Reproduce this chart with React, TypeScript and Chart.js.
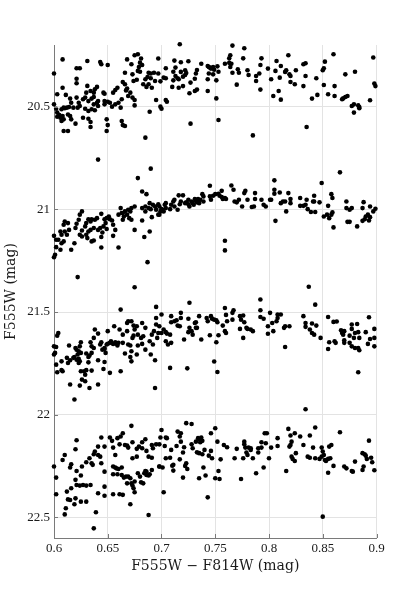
import React, { useEffect, useRef } from "react";
import { Chart, registerables } from "chart.js";

Chart.register(...registerables);

// Tick values / labels
const xTicks = [0.6, 0.65, 0.7, 0.75, 0.8, 0.85, 0.9];
const yTicks = [20.5, 21, 21.5, 22, 22.5];
const xLabel = "F555W \u2212 F814W (mag)";
const yLabel = "F555W (mag)";

// Sequence near F555W ~ 20.4
const seqA: [number, number][] = [
  [0.608, 20.27], [0.6, 20.339], [0.631, 20.278], [0.643, 20.283], [0.644, 20.294], [0.65, 20.297],
  [0.621, 20.313], [0.624, 20.313], [0.621, 20.364], [0.621, 20.386], [0.668, 20.27], [0.675, 20.25],
  [0.678, 20.245], [0.681, 20.266], [0.68, 20.286], [0.679, 20.307], [0.682, 20.297], [0.672, 20.294],
  [0.666, 20.335], [0.678, 20.326], [0.68, 20.33], [0.673, 20.343], [0.688, 20.335], [0.69, 20.339],
  [0.693, 20.335], [0.687, 20.356], [0.69, 20.362], [0.685, 20.367], [0.677, 20.369], [0.674, 20.375],
  [0.683, 20.391], [0.686, 20.404], [0.688, 20.391], [0.691, 20.408], [0.694, 20.375], [0.664, 20.38],
  [0.666, 20.391], [0.668, 20.412], [0.659, 20.408], [0.657, 20.419], [0.655, 20.432], [0.646, 20.432],
  [0.647, 20.437], [0.64, 20.404], [0.638, 20.416], [0.637, 20.432], [0.631, 20.399], [0.63, 20.432],
  [0.634, 20.424], [0.608, 20.408], [0.603, 20.44], [0.611, 20.443], [0.615, 20.461], [0.627, 20.464],
  [0.629, 20.456], [0.632, 20.473], [0.635, 20.461], [0.637, 20.453], [0.621, 20.456], [0.623, 20.481],
  [0.616, 20.481], [0.618, 20.505], [0.6, 20.489], [0.602, 20.51], [0.603, 20.529], [0.605, 20.541],
  [0.607, 20.513], [0.609, 20.505], [0.61, 20.508], [0.612, 20.505], [0.614, 20.502], [0.606, 20.554],
  [0.607, 20.57], [0.603, 20.549], [0.608, 20.546], [0.609, 20.562], [0.613, 20.538], [0.616, 20.562],
  [0.62, 20.583], [0.615, 20.546], [0.622, 20.505], [0.624, 20.497], [0.627, 20.554], [0.632, 20.559],
  [0.634, 20.575], [0.634, 20.599], [0.629, 20.51], [0.632, 20.521], [0.635, 20.513], [0.638, 20.518],
  [0.637, 20.489], [0.64, 20.481], [0.641, 20.473], [0.641, 20.497], [0.647, 20.473], [0.647, 20.489],
  [0.65, 20.476], [0.652, 20.481], [0.654, 20.5], [0.657, 20.489], [0.66, 20.481], [0.662, 20.505],
  [0.663, 20.464], [0.669, 20.448], [0.673, 20.456], [0.675, 20.468], [0.675, 20.494], [0.667, 20.421],
  [0.671, 20.432], [0.663, 20.57], [0.664, 20.59], [0.666, 20.594], [0.649, 20.562], [0.65, 20.59],
  [0.649, 20.619], [0.609, 20.619], [0.613, 20.619], [0.641, 20.758], [0.685, 20.651], [0.689, 20.525],
  [0.695, 20.468],
  [0.717, 20.196], [0.697, 20.266], [0.712, 20.276], [0.718, 20.284], [0.725, 20.279], [0.704, 20.313],
  [0.713, 20.31], [0.722, 20.323], [0.718, 20.331], [0.711, 20.33], [0.713, 20.351], [0.715, 20.362],
  [0.711, 20.372], [0.716, 20.367], [0.72, 20.354], [0.722, 20.346], [0.723, 20.336], [0.733, 20.322],
  [0.732, 20.339], [0.731, 20.364], [0.737, 20.291], [0.743, 20.302], [0.744, 20.307], [0.745, 20.31],
  [0.746, 20.315], [0.748, 20.307], [0.749, 20.32], [0.752, 20.304], [0.753, 20.33], [0.751, 20.372],
  [0.744, 20.339], [0.748, 20.343], [0.743, 20.367], [0.759, 20.291], [0.763, 20.287], [0.764, 20.25],
  [0.763, 20.265], [0.764, 20.307], [0.765, 20.291], [0.766, 20.203], [0.777, 20.216], [0.776, 20.265],
  [0.771, 20.318], [0.772, 20.335], [0.766, 20.335], [0.78, 20.323], [0.781, 20.346], [0.77, 20.393],
  [0.788, 20.351], [0.791, 20.339], [0.793, 20.265], [0.792, 20.297], [0.799, 20.315], [0.788, 20.375],
  [0.792, 20.417], [0.702, 20.359], [0.704, 20.362], [0.699, 20.377], [0.697, 20.339], [0.71, 20.404],
  [0.716, 20.408], [0.72, 20.4], [0.727, 20.383], [0.726, 20.435], [0.731, 20.424], [0.733, 20.417],
  [0.743, 20.424], [0.704, 20.468], [0.705, 20.476], [0.699, 20.5], [0.7, 20.51], [0.751, 20.46],
  [0.727, 20.583], [0.753, 20.565], [0.785, 20.64],
  [0.802, 20.367], [0.807, 20.278], [0.806, 20.326], [0.81, 20.359], [0.811, 20.302], [0.815, 20.331],
  [0.816, 20.323], [0.818, 20.25], [0.819, 20.343], [0.82, 20.351], [0.82, 20.38], [0.824, 20.391],
  [0.825, 20.323], [0.804, 20.448], [0.809, 20.424], [0.811, 20.466], [0.832, 20.294], [0.834, 20.289],
  [0.834, 20.351], [0.832, 20.4], [0.835, 20.599], [0.844, 20.362], [0.84, 20.461], [0.845, 20.443],
  [0.85, 20.323], [0.851, 20.313], [0.852, 20.281], [0.851, 20.395], [0.855, 20.44], [0.86, 20.245],
  [0.861, 20.4], [0.861, 20.448], [0.871, 20.343], [0.88, 20.33], [0.868, 20.464], [0.869, 20.46],
  [0.871, 20.453], [0.873, 20.448], [0.877, 20.497], [0.879, 20.489], [0.879, 20.529], [0.883, 20.494],
  [0.884, 20.508], [0.884, 20.502], [0.897, 20.261], [0.898, 20.388], [0.899, 20.4], [0.894, 20.469],
];

// Sequence near F555W ~ 21.0
const seqB: [number, number][] = [
  [0.69, 20.802], [0.678, 20.848], [0.682, 20.913], [0.686, 20.926], [0.689, 20.97], [0.692, 20.978],
  [0.682, 20.994], [0.685, 20.986], [0.688, 20.994], [0.69, 20.999], [0.694, 20.986], [0.695, 21.002],
  [0.697, 21.026], [0.691, 21.038], [0.685, 21.01], [0.675, 20.986], [0.672, 20.994], [0.671, 21.01],
  [0.669, 21.002], [0.666, 21.01], [0.664, 21.018], [0.668, 21.026], [0.665, 21.035], [0.662, 20.994],
  [0.663, 21.018], [0.66, 21.026], [0.664, 21.051], [0.67, 21.043], [0.672, 21.051], [0.675, 21.1],
  [0.682, 21.054], [0.689, 21.108], [0.684, 21.135], [0.687, 21.257], [0.66, 21.186], [0.655, 21.129],
  [0.657, 21.1], [0.644, 21.022], [0.647, 21.048], [0.649, 21.043], [0.651, 21.035], [0.652, 21.048],
  [0.654, 21.054], [0.655, 21.075], [0.648, 21.067], [0.646, 21.083], [0.643, 21.091], [0.641, 21.1],
  [0.645, 21.113], [0.649, 21.096], [0.638, 21.051], [0.64, 21.043], [0.635, 21.048], [0.634, 21.059],
  [0.632, 21.048], [0.63, 21.067], [0.629, 21.083], [0.626, 21.01], [0.624, 21.026], [0.623, 21.051],
  [0.621, 21.07], [0.62, 21.091], [0.637, 21.091], [0.634, 21.1], [0.632, 21.108], [0.63, 21.124],
  [0.631, 21.14], [0.635, 21.156], [0.637, 21.152], [0.644, 21.186], [0.644, 21.135], [0.626, 21.103],
  [0.624, 21.124], [0.626, 21.132], [0.61, 21.059], [0.613, 21.067], [0.609, 21.075], [0.614, 21.1],
  [0.61, 21.108], [0.606, 21.108], [0.607, 21.124], [0.612, 21.124], [0.604, 21.148], [0.607, 21.165],
  [0.609, 21.156], [0.6, 21.129], [0.602, 21.148], [0.602, 21.184], [0.601, 21.221], [0.6, 21.233],
  [0.616, 21.197], [0.606, 21.197], [0.619, 21.165], [0.622, 21.33],
  [0.697, 20.975], [0.698, 20.986], [0.7, 20.999], [0.701, 21.002], [0.699, 21.01], [0.698, 21.026],
  [0.703, 20.978], [0.704, 20.994], [0.704, 20.97], [0.702, 21.01], [0.708, 20.999], [0.709, 20.978],
  [0.711, 20.962], [0.712, 20.953], [0.712, 20.986], [0.715, 21.002], [0.717, 20.975], [0.716, 20.932],
  [0.72, 20.932], [0.718, 20.962], [0.722, 20.97], [0.723, 20.966], [0.725, 20.953], [0.725, 20.975],
  [0.726, 20.986], [0.728, 20.962], [0.729, 20.97], [0.731, 20.95], [0.73, 20.978], [0.732, 20.957],
  [0.733, 20.966], [0.734, 20.95], [0.735, 20.97], [0.738, 20.926], [0.739, 20.937], [0.739, 20.962],
  [0.736, 20.953], [0.745, 20.885], [0.745, 20.937], [0.746, 20.953], [0.748, 20.934], [0.75, 20.926],
  [0.753, 20.924], [0.754, 20.934], [0.756, 20.94], [0.757, 20.95], [0.759, 20.945], [0.76, 20.95],
  [0.756, 20.91], [0.765, 20.884], [0.767, 20.905], [0.768, 20.962], [0.77, 20.966], [0.772, 20.953],
  [0.775, 20.986], [0.777, 20.921], [0.778, 20.91], [0.78, 20.953], [0.784, 20.989], [0.786, 20.986],
  [0.787, 20.921], [0.787, 20.95], [0.793, 20.953], [0.795, 20.978], [0.797, 20.986], [0.801, 20.953],
  [0.759, 21.153], [0.759, 21.2],
  [0.805, 20.859], [0.805, 20.905], [0.805, 20.924], [0.802, 20.953], [0.81, 20.918], [0.811, 20.97],
  [0.813, 20.962], [0.815, 20.962], [0.816, 21.01], [0.818, 20.921], [0.82, 20.95], [0.82, 20.97],
  [0.806, 21.056], [0.829, 20.945], [0.829, 20.983], [0.832, 20.983], [0.835, 20.953], [0.834, 20.978],
  [0.836, 20.999], [0.839, 21.013], [0.841, 20.962], [0.842, 20.934], [0.842, 20.962], [0.843, 21.013],
  [0.847, 20.966], [0.849, 20.872], [0.851, 21.035], [0.854, 21.026], [0.855, 20.983], [0.856, 21.043],
  [0.858, 21.026], [0.859, 21.015], [0.858, 20.926], [0.859, 20.945], [0.86, 21.088], [0.866, 20.82],
  [0.872, 20.962], [0.872, 20.994], [0.875, 21.002], [0.877, 20.994], [0.873, 21.061], [0.875, 21.061],
  [0.882, 21.083], [0.887, 20.994], [0.888, 20.965], [0.887, 21.056], [0.889, 21.048], [0.89, 21.035],
  [0.892, 21.026], [0.893, 21.054], [0.894, 21.038], [0.894, 20.986], [0.897, 21.01], [0.899, 20.997],
];

// Sequence near F555W ~ 21.6
const seqC: [number, number][] = [
  [0.675, 21.379], [0.662, 21.488], [0.695, 21.475], [0.604, 21.602], [0.603, 21.615], [0.6, 21.667],
  [0.602, 21.67], [0.601, 21.699], [0.6, 21.707], [0.602, 21.756], [0.607, 21.74], [0.603, 21.793],
  [0.607, 21.783], [0.608, 21.788], [0.614, 21.663], [0.612, 21.723], [0.613, 21.748], [0.615, 21.735],
  [0.618, 21.723], [0.619, 21.719], [0.621, 21.732], [0.621, 21.683], [0.62, 21.675], [0.623, 21.691],
  [0.622, 21.707], [0.623, 21.728], [0.623, 21.748], [0.624, 21.74], [0.625, 21.647], [0.624, 21.667],
  [0.625, 21.699], [0.625, 21.788], [0.626, 21.829], [0.624, 21.858], [0.629, 21.837], [0.628, 21.788],
  [0.63, 21.783], [0.629, 21.805], [0.63, 21.702], [0.632, 21.719], [0.633, 21.712], [0.632, 21.745],
  [0.635, 21.699], [0.635, 21.667], [0.637, 21.675], [0.634, 21.647], [0.638, 21.585], [0.637, 21.626],
  [0.641, 21.605], [0.643, 21.658], [0.644, 21.647], [0.645, 21.683], [0.647, 21.68], [0.648, 21.699],
  [0.647, 21.675], [0.649, 21.658], [0.65, 21.593], [0.65, 21.654], [0.652, 21.65], [0.653, 21.642],
  [0.655, 21.655], [0.657, 21.647], [0.658, 21.654], [0.659, 21.663], [0.66, 21.65], [0.656, 21.569],
  [0.661, 21.585], [0.664, 21.65], [0.615, 21.853], [0.619, 21.926], [0.633, 21.87], [0.641, 21.853],
  [0.635, 21.785], [0.641, 21.735], [0.647, 21.743], [0.646, 21.777], [0.652, 21.796], [0.662, 21.788],
  [0.666, 21.702], [0.669, 21.658], [0.671, 21.663], [0.672, 21.691], [0.672, 21.74], [0.673, 21.626],
  [0.675, 21.585], [0.674, 21.615], [0.668, 21.553], [0.669, 21.545], [0.672, 21.545], [0.674, 21.566],
  [0.677, 21.569], [0.678, 21.61], [0.681, 21.626], [0.683, 21.618], [0.682, 21.553], [0.685, 21.577],
  [0.685, 21.683], [0.682, 21.655], [0.678, 21.663], [0.668, 21.593], [0.664, 21.61], [0.677, 21.707],
  [0.671, 21.719], [0.689, 21.642], [0.691, 21.61], [0.693, 21.593], [0.695, 21.529], [0.695, 21.561],
  [0.697, 21.602], [0.696, 21.626], [0.69, 21.707], [0.694, 21.735], [0.692, 21.658], [0.694, 21.87],
  [0.7, 21.512], [0.698, 21.569], [0.7, 21.602], [0.702, 21.585], [0.704, 21.598], [0.705, 21.605],
  [0.708, 21.61], [0.704, 21.642], [0.706, 21.658], [0.709, 21.65], [0.709, 21.52], [0.709, 21.55],
  [0.712, 21.545], [0.714, 21.54], [0.715, 21.566], [0.717, 21.569], [0.718, 21.529], [0.718, 21.504],
  [0.726, 21.455], [0.725, 21.533], [0.726, 21.577], [0.725, 21.598], [0.728, 21.593], [0.729, 21.61],
  [0.731, 21.553], [0.732, 21.55], [0.732, 21.577], [0.733, 21.577], [0.735, 21.52], [0.737, 21.634],
  [0.721, 21.634], [0.742, 21.529], [0.743, 21.545], [0.746, 21.52], [0.747, 21.533], [0.749, 21.537],
  [0.751, 21.54], [0.752, 21.55], [0.745, 21.613], [0.751, 21.647], [0.753, 21.613], [0.757, 21.566],
  [0.759, 21.48], [0.76, 21.514], [0.761, 21.545], [0.759, 21.593], [0.76, 21.602], [0.766, 21.504],
  [0.767, 21.491], [0.766, 21.537], [0.773, 21.52], [0.774, 21.537], [0.776, 21.517], [0.777, 21.55],
  [0.779, 21.577], [0.773, 21.582], [0.776, 21.626], [0.78, 21.582], [0.783, 21.585], [0.785, 21.593],
  [0.792, 21.439], [0.792, 21.491], [0.792, 21.524], [0.795, 21.533], [0.799, 21.569], [0.799, 21.606],
  [0.801, 21.504], [0.708, 21.772], [0.724, 21.774], [0.749, 21.741], [0.752, 21.792],
  [0.803, 21.553], [0.804, 21.593], [0.807, 21.545], [0.808, 21.512], [0.808, 21.529], [0.811, 21.512],
  [0.815, 21.569], [0.814, 21.577], [0.819, 21.569], [0.815, 21.67], [0.832, 21.52], [0.834, 21.553],
  [0.834, 21.572], [0.838, 21.585], [0.84, 21.556], [0.84, 21.602], [0.842, 21.61], [0.844, 21.566],
  [0.848, 21.626], [0.837, 21.377], [0.843, 21.464], [0.855, 21.524], [0.855, 21.68], [0.856, 21.647],
  [0.86, 21.548], [0.863, 21.546], [0.861, 21.642], [0.862, 21.65], [0.867, 21.589], [0.868, 21.602],
  [0.869, 21.61], [0.87, 21.593], [0.87, 21.637], [0.87, 21.65], [0.875, 21.615], [0.875, 21.65],
  [0.877, 21.561], [0.877, 21.582], [0.877, 21.667], [0.879, 21.626], [0.88, 21.602], [0.88, 21.675],
  [0.882, 21.558], [0.883, 21.598], [0.884, 21.626], [0.883, 21.675], [0.884, 21.686], [0.89, 21.598],
  [0.892, 21.655], [0.893, 21.525], [0.894, 21.631], [0.898, 21.582], [0.898, 21.626], [0.898, 21.667],
  [0.883, 21.793],
];

// Sequence near F555W ~ 22.2
const seqD: [number, number][] = [
  [0.6, 22.252], [0.602, 22.306], [0.602, 22.387], [0.608, 22.22], [0.61, 22.196], [0.615, 22.257],
  [0.616, 22.241], [0.621, 22.124], [0.62, 22.168], [0.621, 22.274], [0.625, 22.296], [0.626, 22.252],
  [0.63, 22.231], [0.633, 22.212], [0.635, 22.236], [0.636, 22.244], [0.637, 22.192], [0.638, 22.179],
  [0.641, 22.155], [0.641, 22.196], [0.643, 22.204], [0.644, 22.111], [0.647, 22.155], [0.652, 22.111],
  [0.654, 22.127], [0.655, 22.16], [0.657, 22.196], [0.659, 22.114], [0.661, 22.144], [0.662, 22.106],
  [0.664, 22.09], [0.666, 22.147], [0.668, 22.15], [0.669, 22.16], [0.672, 22.054], [0.673, 22.134],
  [0.673, 22.212], [0.677, 22.204], [0.677, 22.166], [0.679, 22.155], [0.682, 22.134], [0.682, 22.163],
  [0.685, 22.119], [0.686, 22.176], [0.688, 22.204], [0.691, 22.147], [0.692, 22.163], [0.691, 22.209],
  [0.695, 22.144], [0.644, 22.236], [0.647, 22.277], [0.655, 22.252], [0.657, 22.257], [0.658, 22.261],
  [0.66, 22.264], [0.663, 22.257], [0.655, 22.29], [0.659, 22.29], [0.663, 22.293], [0.665, 22.306],
  [0.667, 22.301], [0.669, 22.301], [0.671, 22.309], [0.668, 22.334], [0.672, 22.334], [0.673, 22.345],
  [0.674, 22.358], [0.675, 22.377], [0.675, 22.325], [0.678, 22.285], [0.68, 22.301], [0.681, 22.329],
  [0.683, 22.334], [0.684, 22.285], [0.685, 22.274], [0.686, 22.277], [0.686, 22.293], [0.688, 22.296],
  [0.689, 22.29], [0.691, 22.269], [0.698, 22.252], [0.62, 22.317], [0.621, 22.342], [0.624, 22.345],
  [0.627, 22.342], [0.63, 22.345], [0.634, 22.342], [0.616, 22.358], [0.612, 22.374], [0.615, 22.415],
  [0.613, 22.412], [0.62, 22.407], [0.619, 22.436], [0.625, 22.423], [0.63, 22.423], [0.611, 22.455],
  [0.61, 22.485], [0.641, 22.382], [0.647, 22.394], [0.647, 22.35], [0.655, 22.387], [0.661, 22.387],
  [0.664, 22.39], [0.671, 22.436], [0.639, 22.475], [0.637, 22.553], [0.688, 22.488],
  [0.7, 22.074], [0.699, 22.111], [0.704, 22.111], [0.705, 22.114], [0.698, 22.144], [0.703, 22.152],
  [0.709, 22.171], [0.714, 22.152], [0.715, 22.082], [0.717, 22.106], [0.718, 22.09], [0.718, 22.131],
  [0.721, 22.158], [0.72, 22.184], [0.717, 22.217], [0.704, 22.212], [0.708, 22.209], [0.711, 22.244],
  [0.71, 22.248], [0.711, 22.272], [0.722, 22.249], [0.724, 22.264], [0.723, 22.236], [0.72, 22.306],
  [0.698, 22.252], [0.701, 22.257], [0.702, 22.377], [0.723, 22.041], [0.728, 22.045], [0.728, 22.144],
  [0.729, 22.163], [0.732, 22.131], [0.734, 22.114], [0.735, 22.119], [0.736, 22.134], [0.738, 22.127],
  [0.737, 22.111], [0.733, 22.183], [0.735, 22.187], [0.738, 22.192], [0.74, 22.171], [0.744, 22.199],
  [0.746, 22.176], [0.747, 22.212], [0.746, 22.09], [0.75, 22.066], [0.752, 22.131], [0.755, 22.217],
  [0.758, 22.147], [0.761, 22.158], [0.739, 22.257], [0.741, 22.296], [0.735, 22.309], [0.743, 22.402],
  [0.75, 22.309], [0.754, 22.313], [0.753, 22.274], [0.768, 22.212], [0.77, 22.166], [0.774, 22.313],
  [0.776, 22.212], [0.777, 22.144], [0.777, 22.131], [0.778, 22.16], [0.779, 22.184], [0.78, 22.196],
  [0.781, 22.16], [0.783, 22.171], [0.783, 22.163], [0.785, 22.212], [0.788, 22.285], [0.79, 22.163],
  [0.79, 22.184], [0.793, 22.134], [0.793, 22.16], [0.795, 22.257], [0.797, 22.139], [0.798, 22.09],
  [0.796, 22.09], [0.8, 22.212],
  [0.802, 22.16], [0.808, 22.114], [0.808, 22.152], [0.816, 22.274], [0.818, 22.069], [0.82, 22.101],
  [0.821, 22.131], [0.82, 22.147], [0.819, 22.155], [0.824, 22.09], [0.821, 22.204], [0.822, 22.215],
  [0.824, 22.225], [0.825, 22.187], [0.829, 22.106], [0.832, 22.147], [0.834, 21.973], [0.836, 22.204],
  [0.838, 22.209], [0.838, 22.101], [0.841, 22.16], [0.843, 22.062], [0.843, 22.212], [0.847, 22.215],
  [0.849, 22.16], [0.849, 22.204], [0.85, 22.179], [0.851, 22.196], [0.852, 22.22], [0.853, 22.225],
  [0.855, 22.215], [0.855, 22.282], [0.856, 22.155], [0.858, 22.147], [0.857, 22.212], [0.86, 22.249],
  [0.866, 22.085], [0.87, 22.252], [0.872, 22.261], [0.877, 22.274], [0.878, 22.277], [0.88, 22.228],
  [0.887, 22.269], [0.887, 22.187], [0.888, 22.252], [0.889, 22.192], [0.89, 22.199], [0.891, 22.215],
  [0.893, 22.126], [0.895, 22.209], [0.896, 22.231], [0.898, 22.27], [0.85, 22.496],
];

const AXIS_COLOR = "#7a7a7a";
const GRID_COLOR = "#e3e3e3";
const TEXT_COLOR = "#1a1a1a";
const TICK_FONT = "'Liberation Serif', 'DejaVu Serif', serif";
const TITLE_FONT = "'DejaVu Serif', 'Liberation Serif', serif";

const innerTicks = {
  id: "innerTicks",
  afterDraw(chart: any) {
    const { ctx, chartArea, scales } = chart;
    const x = scales.x;
    const y = scales.y;
    ctx.save();
    ctx.strokeStyle = AXIS_COLOR;
    ctx.lineWidth = 1;
    x.ticks.forEach((t: any) => {
      const px = Math.round(x.getPixelForValue(t.value)) + 0.5;
      ctx.beginPath();
      ctx.moveTo(px, chartArea.bottom);
      ctx.lineTo(px, chartArea.bottom - 4);
      ctx.stroke();
    });
    y.ticks.forEach((t: any) => {
      const py = Math.round(y.getPixelForValue(t.value)) + 0.5;
      ctx.beginPath();
      ctx.moveTo(chartArea.left, py);
      ctx.lineTo(chartArea.left + 4, py);
      ctx.stroke();
    });
    ctx.restore();
  },
};

export default function App() {
  const canvasRef = useRef<HTMLCanvasElement | null>(null);

  useEffect(() => {
    const canvas = canvasRef.current;
    if (!canvas) return;
    const points = [...seqA, ...seqB, ...seqC, ...seqD].map(([x, y]) => ({ x, y }));
    const chart = new Chart(canvas, {
      type: "scatter",
      data: {
        datasets: [
          {
            data: points,
            backgroundColor: "#000000",
            borderWidth: 0,
            pointRadius: 2.3,
            pointHoverRadius: 2.3,
            clip: 4,
          } as any,
        ],
      },
      options: {
        responsive: false,
        animation: false,
        devicePixelRatio: 1,
        layout: { padding: { left: 0, right: 38.5, top: 45, bottom: 30 } },
        plugins: { legend: { display: false }, tooltip: { enabled: false } },
        scales: {
          x: {
            type: "linear",
            min: 0.6,
            max: 0.9,
            afterBuildTicks: (scale: any) => {
              scale.ticks = xTicks.map((v) => ({ value: v }));
            },
            afterFit: (scale: any) => {
              scale.height = 37;
            },
            ticks: {
              callback: (v: any) => String(v),
              color: TEXT_COLOR,
              font: { family: TICK_FONT, size: 13 },
              padding: 3,
              maxRotation: 0,
              autoSkip: false,
            },
            grid: { color: GRID_COLOR, drawTicks: false, lineWidth: 1 },
            border: { display: true, color: AXIS_COLOR, width: 1 },
            title: {
              display: true,
              text: xLabel,
              color: TEXT_COLOR,
              font: { family: TITLE_FONT, size: 14 },
              padding: { top: 0, bottom: 0 },
            },
          },
          y: {
            type: "linear",
            reverse: true,
            min: 20.2,
            max: 22.6,
            afterBuildTicks: (scale: any) => {
              scale.ticks = yTicks.map((v) => ({ value: v }));
            },
            afterFit: (scale: any) => {
              scale.width = 54;
            },
            ticks: {
              callback: (v: any) => String(v),
              color: TEXT_COLOR,
              font: { family: TICK_FONT, size: 13 },
              padding: 4,
              autoSkip: false,
            },
            grid: { color: GRID_COLOR, drawTicks: false, lineWidth: 1 },
            border: { display: true, color: AXIS_COLOR, width: 1 },
            title: {
              display: true,
              text: yLabel,
              color: TEXT_COLOR,
              font: { family: TITLE_FONT, size: 14 },
              padding: { top: 3, bottom: 0 },
            },
          },
        },
      },
      plugins: [innerTicks],
    });
    return () => chart.destroy();
  }, []);

  return (
    <div style={{ position: "fixed", left: 0, top: 0, width: 415, height: 605, background: "#fff" }}>
      <canvas ref={canvasRef} width={415} height={605} style={{ display: "block" }} />
    </div>
  );
}
